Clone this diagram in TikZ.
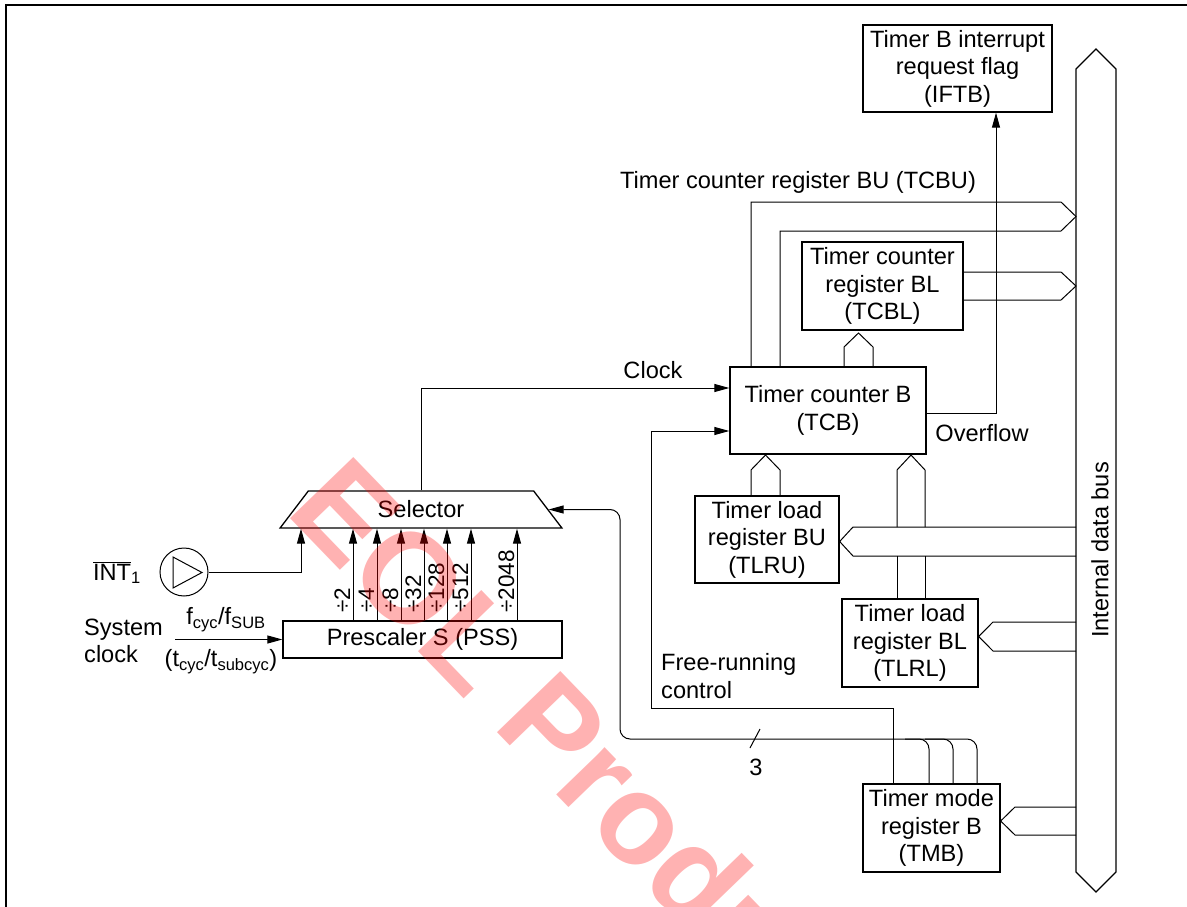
\documentclass[tikz,border=0pt]{standalone}
\usepackage{fontspec}
\setmainfont{Liberation Sans}
\usetikzlibrary{arrows.meta,shapes.geometric,shapes.arrows}

\tikzset{
  regbox/.style={draw, line width=1.3pt, align=center, inner sep=0pt},
  conn/.style={line width=1pt},
  arr/.style={conn, -{Triangle[length=15pt,width=8pt]}},
  lbl/.style={inner sep=0pt},
  divlbl/.style={inner sep=0pt, rotate=90, anchor=base west, font=\fontsize{22.5}{24}\selectfont},
}

\begin{document}
\begin{tikzpicture}[x=1pt,y=-1pt,font=\fontsize{23.6}{27.5}\selectfont]
\useasboundingbox (0,0) rectangle (1187,907);
\draw[line width=2pt] (6,907) -- (6,5) -- (1187,5);

% internal data bus
\node (bus) [draw, line width=1.3pt, double arrow, double arrow head extend=0pt, double arrow tip angle=90,
  minimum height=843pt, minimum width=40pt, rotate=90, inner sep=0pt] at (1096,470.5) {};
\node (busl) [lbl, rotate=90] at (1100,550) {Internal data bus};

% registers
\node (iftb) [regbox, minimum width=189pt, minimum height=87pt] at (957.5,68.5) {Timer B interrupt\\request flag\\(IFTB)};
\node (tcbl) [regbox, minimum width=161pt, minimum height=88pt] at (882.5,286) {Timer counter\\register BL\\(TCBL)};
\node (tcb) [regbox, minimum width=196pt, minimum height=87pt] at (828,410.5) {Timer counter B\\(TCB)};
\node (tlru) [regbox, minimum width=144pt, minimum height=87pt] at (767,539.5) {Timer load\\register BU\\(TLRU)};
\node (tlrl) [regbox, minimum width=136pt, minimum height=88pt] at (910,643) {Timer load\\register BL\\(TLRL)};
\node (tmb) [regbox, minimum width=137pt, minimum height=88pt] at (931.5,828) {Timer mode\\register B\\(TMB)};
\node (pss) [regbox, minimum width=279pt, minimum height=37pt] at (422.5,639.5) {Prescaler S (PSS)};
\node (sel) [regbox, trapezium, trapezium angle=58, trapezium stretches=true,
  minimum width=282pt, minimum height=37pt] at (421,509.5) {Selector};
\node (buf) [circle, draw, line width=1pt, minimum size=48pt] at (184,572) {};
\draw[conn] (173,557) -- (202,572.5) -- (173,588) -- cycle;

% labels
\node (tcbu) [lbl] at (798,182) {Timer counter register BU (TCBU)};
\node (clk) [lbl] at (653,370) {Clock};
\node (ovf) [lbl] at (982,433) {Overflow};
\node (frc) [lbl, align=left, anchor=west] at (661,676) {Free-running\\control};
\node (three) [lbl] at (756,767) {3};
\node (int) [lbl] at (117,573) {$\overline{\mbox{INT}}$\textsubscript{1}};
\node (sys) [lbl, align=left, anchor=west] at (84,641) {System\\clock};
\node (fcyc) [lbl] at (226,620) {f\textsubscript{cyc}/f\textsubscript{SUB}};
\node (tcyc) [lbl] at (221,662) {(t\textsubscript{cyc}/t\textsubscript{subcyc})};

% clock path
\draw[arr] (sel.north) |- (tcb.west |- 0,388);
\draw[arr] (tmb.north -| 893,0) -- (893,708) -- (651,708) -- (651,431) -- (tcb.west |- 0,431);
\draw[arr] (tcb.east |- 0,413) -- (996,413) -- (iftb.south -| 996,0);

% counter to bus
\draw[conn] (tcb.north -| 751,0) -- (751,202) -- (1061,202) -- (1076,216.5) -- (1061,231) -- (780,231) -- (tcb.north -| 780,0);
\draw[conn] (tcb.north -| 844,0) -- (844,347) -- (858.5,333) -- (873,347) -- (tcb.north -| 873,0);
\draw[conn] (tcbl.east |- 0,272) -- (1061,272) -- (1076,286) -- (1061,300) -- (tcbl.east |- 0,300);

% bus to load and mode registers
\draw[conn] (1076,527) -- (853,527) -- (tlru.east |- 0,541.5) -- (853,556) -- (1076,556);
\draw[conn] (1076,622) -- (993,622) -- (tlrl.east |- 0,636.5) -- (993,651) -- (1076,651);
\draw[conn] (1076,807) -- (1015,807) -- (tmb.east |- 0,821) -- (1015,835) -- (1076,835);

% load registers to counter
\draw[conn] (tlru.north -| 751,0) -- (751,470) -- (765.5,455) -- (780,470) -- (tlru.north -| 780,0);
\draw[conn] (tlrl.north -| 897,0) -- (897,556);
\draw[conn] (897,527) -- (897,470) -- (911,455) -- (925,470) -- (925,527);
\draw[conn] (925,556) -- (tlrl.north -| 925,0);

% mode bits to selector
\draw[arr, rounded corners=10pt] (tmb.north -| 977,0) -- (977,739) -- (620,739) -- (620,509.5) -- (sel.east);
\draw[conn, rounded corners=10pt] (tmb.north -| 953,0) -- (953,739) -- (925,739);
\draw[conn, rounded corners=10pt] (tmb.north -| 929,0) -- (929,739) -- (905,739);
\draw[conn] (750,748) -- (760,729);

% prescaler outputs
\foreach \xx/\dv in {353/2,377/4,401/8,424/32,447/128,471/512,517/2048} {
  \draw[arr] (pss.north -| \xx,0) -- (sel.south -| \xx,0);
  \node[divlbl] at (\xx-3,613) {÷\dv};
}
\draw[arr] (buf.east) -| (sel.south -| 301,0);
\coordinate (clkin) at (175,639.5);
\draw[arr] (clkin) -- (pss.west);

% watermark
\node (wm) [text=red, opacity=0.3, font=\bfseries\fontsize{128}{132}\selectfont, rotate=-46, anchor=base west, inner sep=0pt] at (284,512) {EOL Products};
\end{tikzpicture}
\end{document}
